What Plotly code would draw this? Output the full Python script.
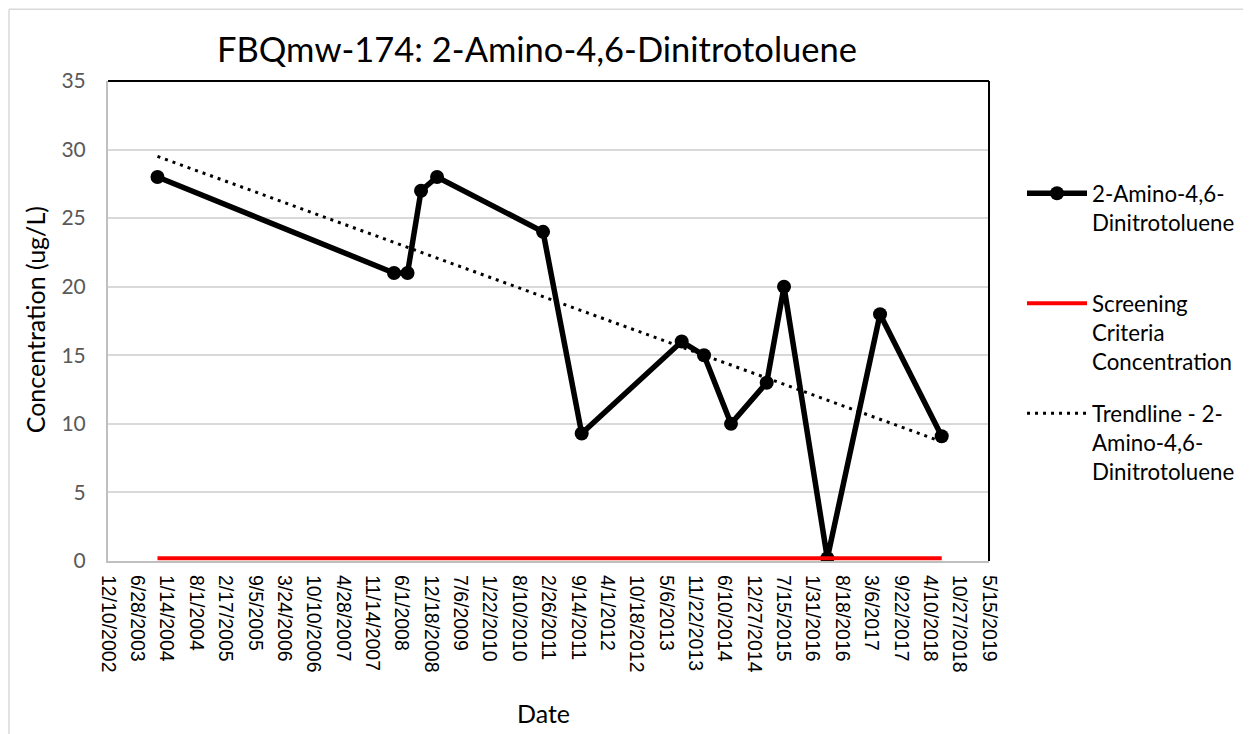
import numpy as np
import pandas as pd
import plotly.graph_objects as go

# ---- data ----
sample_dates = ["2003-11-12", "2008-04-10", "2008-07-11", "2008-10-11", "2009-01-28",
                "2011-01-20", "2011-10-10", "2013-08-21", "2014-01-20", "2014-07-23",
                "2015-03-23", "2015-07-19", "2016-05-09", "2017-05-03", "2018-06-27"]
concentration = [28, 21, 21, 27, 28, 24, 9.3, 16, 15, 10, 13, 20, 0.2, 18, 9.1]
screening_value = 0.2

tick_labels = ["12/10/2002", "6/28/2003", "1/14/2004", "8/1/2004", "2/17/2005", "9/5/2005",
               "3/24/2006", "10/10/2006", "4/28/2007", "11/14/2007", "6/1/2008", "12/18/2008",
               "7/6/2009", "1/22/2010", "8/10/2010", "2/26/2011", "9/14/2011", "4/1/2012",
               "10/18/2012", "5/6/2013", "11/22/2013", "6/10/2014", "12/27/2014", "7/15/2015",
               "1/31/2016", "8/18/2016", "3/6/2017", "9/22/2017", "4/10/2018", "10/27/2018",
               "5/15/2019"]
y_ticks = [0, 5, 10, 15, 20, 25, 30, 35]

# ---- derived ----
d = pd.to_datetime(sample_dates)
tick_vals = pd.to_datetime(tick_labels, format="%m/%d/%Y")
days = (d - d[0]).days.values.astype(float)
slope, intercept = np.polyfit(days, np.array(concentration, dtype=float), 1)
trend_x = [d[0], d[-1]]
trend_y = [intercept, intercept + slope * days[-1]]

FONT = "Lato"

fig = go.Figure()
fig.add_trace(go.Scatter(
    x=d, y=concentration, mode="lines+markers",
    name="2-Amino-4,6-<br>Dinitrotoluene<br>&nbsp;",
    line=dict(color="black", width=5.5),
    marker=dict(color="black", size=14),
    legendgroup="a"))
fig.add_trace(go.Scatter(
    x=[d[0], d[-1]], y=[screening_value, screening_value], mode="lines",
    name="Screening<br>Criteria<br>Concentration",
    line=dict(color="#ff0000", width=4),
    legendgroup="b"))
fig.add_trace(go.Scatter(
    x=trend_x, y=trend_y, mode="lines",
    name="Trendline - 2-<br>Amino-4,6-<br>Dinitrotoluene",
    line=dict(color="black", width=3, dash="3px,5px"),
    legendgroup="c"))

# page body has an 8px margin: design in target (screenshot) pixels, shift by 8
OFF = 8
L, R, T, B = 108, 989, 80.7, 560.7          # plot area in target pixels
W, H = 1251 - 2 * OFF, 734 - OFF             # figure size
pw, ph = R - L, B - T
def px(x): return (x - L) / pw
def py(y): return (B - y) / ph

fig.update_layout(
    width=W, height=H,
    margin=dict(l=L - OFF, r=W - (R - OFF), t=T - OFF, b=H - (B - OFF), autoexpand=False),
    paper_bgcolor="white", plot_bgcolor="white",
    font=dict(family=FONT, color="black"),
    title=dict(text="FBQmw-174: 2-Amino-4,6-Dinitrotoluene",
               x=(537 - OFF) / W, xanchor="center", xref="container",
               y=1 - (50 - OFF) / H, yanchor="middle", yref="container",
               font=dict(family=FONT, size=34.5, color="black")),
    showlegend=True,
    legend=dict(x=px(1022), y=py(172), xanchor="left", yanchor="top",
                font=dict(family=FONT, size=22.3, color="black"),
                itemwidth=60, valign="top", tracegroupgap=20,
                bgcolor="rgba(0,0,0,0)"),
    xaxis=dict(type="date", range=[tick_vals[0], tick_vals[-1]],
               tickmode="array", tickvals=tick_vals, ticktext=tick_labels,
               tickangle=90, ticks="", showgrid=False, zeroline=False,
               showline=True, linecolor="#bfbfbf", linewidth=2,
               ticklabelstandoff=8,
               tickfont=dict(family="Liberation Sans", size=19.5, color="black")),
    yaxis=dict(range=[0, 35], tickmode="array", tickvals=y_ticks,
               ticks="", showgrid=True, gridcolor="#d9d9d9", gridwidth=2,
               zeroline=False, showline=True, linecolor="#bfbfbf", linewidth=2,
               ticklabelstandoff=16,
               tickfont=dict(family=FONT, size=21, color="#595959")),
    annotations=[
        dict(text="Concentration (ug/L)", textangle=-90, x=px(35), y=py(320),
             xref="paper", yref="paper", xanchor="center", yanchor="middle",
             showarrow=False, font=dict(family=FONT, size=25, color="black")),
        dict(text="Date", x=px(543), y=py(713), xref="paper", yref="paper",
             xanchor="center", yanchor="middle",
             showarrow=False, font=dict(family=FONT, size=25, color="black")),
    ],
    shapes=[
        dict(type="line", xref="paper", yref="paper", x0=0, x1=1, y0=1, y1=1,
             line=dict(color="black", width=2)),
        dict(type="line", xref="paper", yref="paper", x0=1, x1=1, y0=0, y1=1,
             line=dict(color="black", width=2)),
        dict(type="line", xref="paper", yref="paper", x0=px(9), x1=px(1260),
             y0=py(9), y1=py(9), line=dict(color="#d9d9d9", width=1.5)),
        dict(type="line", xref="paper", yref="paper", x0=px(9), x1=px(9),
             y0=py(9), y1=py(740), line=dict(color="#d9d9d9", width=1.5)),
    ],
)

fig.write_html("out.html")
